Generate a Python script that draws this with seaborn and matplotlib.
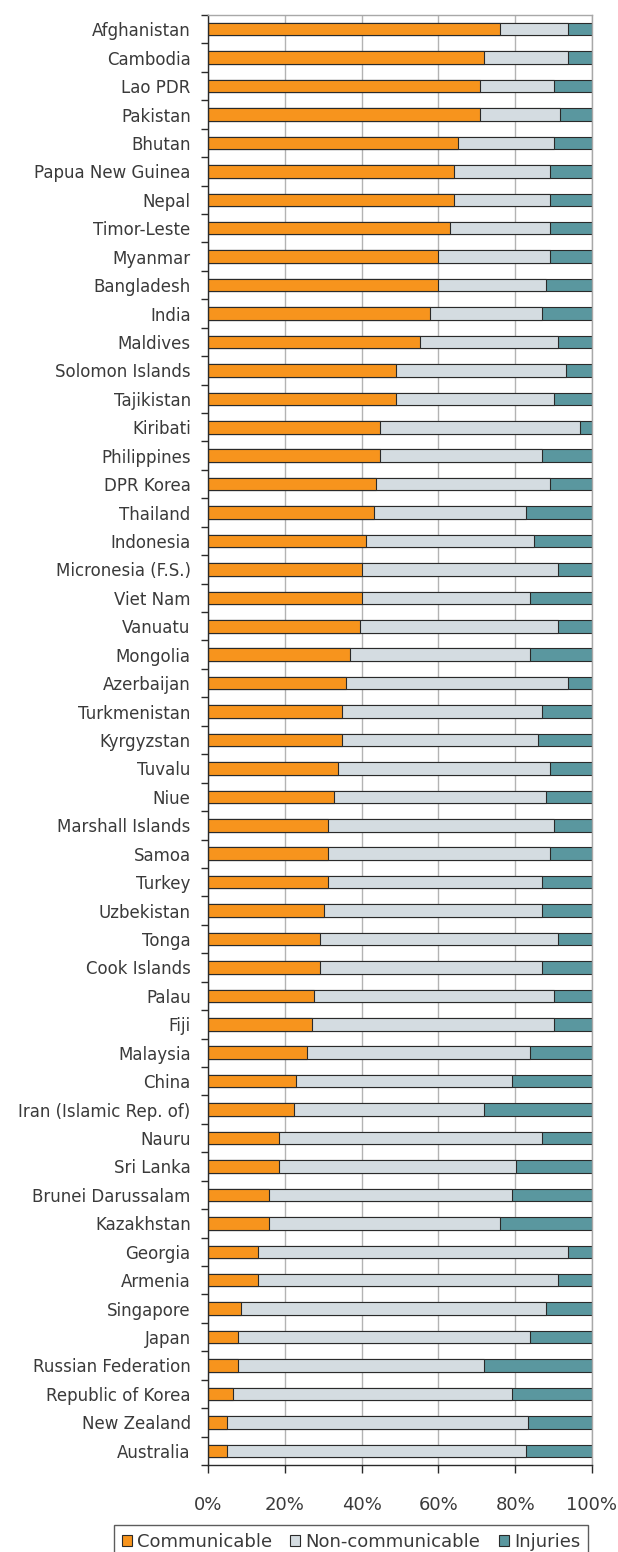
import matplotlib
matplotlib.use("Agg")
import matplotlib.pyplot as plt
import seaborn as sns
import pandas as pd
import numpy as np
from matplotlib.patches import Patch
from matplotlib.ticker import FixedLocator

countries = [
    "Afghanistan", "Cambodia", "Lao PDR", "Pakistan", "Bhutan", "Papua New Guinea",
    "Nepal", "Timor-Leste", "Myanmar", "Bangladesh", "India", "Maldives",
    "Solomon Islands", "Tajikistan", "Kiribati", "Philippines", "DPR Korea",
    "Thailand", "Indonesia", "Micronesia (F.S.)", "Viet Nam", "Vanuatu", "Mongolia",
    "Azerbaijan", "Turkmenistan", "Kyrgyzstan", "Tuvalu", "Niue", "Marshall Islands",
    "Samoa", "Turkey", "Uzbekistan", "Tonga", "Cook Islands", "Palau", "Fiji",
    "Malaysia", "China", "Iran (Islamic Rep. of)", "Nauru", "Sri Lanka",
    "Brunei Darussalam", "Kazakhstan", "Georgia", "Armenia", "Singapore", "Japan",
    "Russian Federation", "Republic of Korea", "New Zealand", "Australia",
]
communicable = [
    76.1, 71.8, 70.8, 70.8, 65.1, 64.1, 64.1, 63.0, 59.9, 59.9, 57.7, 55.2,
    48.9, 48.9, 44.7, 44.7, 43.7, 43.2, 41.1, 40.0, 40.0, 39.5, 36.9, 35.9,
    34.8, 34.8, 33.8, 32.7, 31.2, 31.2, 31.2, 30.1, 29.1, 29.1, 27.5, 27.0,
    25.9, 22.8, 22.3, 18.6, 18.6, 16.0, 16.0, 12.9, 12.9, 8.7, 7.7, 7.7,
    6.6, 5.0, 5.0,
]
non_communicable = [
    17.6, 21.9, 19.3, 20.8, 25.0, 24.9, 24.9, 26.0, 29.1, 28.2, 29.2, 35.9,
    44.3, 41.2, 52.2, 42.2, 45.3, 39.6, 43.8, 51.1, 43.8, 51.6, 46.9, 57.8,
    52.1, 51.1, 55.2, 55.3, 58.9, 57.8, 55.7, 56.8, 62.0, 57.8, 62.6, 63.1,
    57.9, 56.3, 49.5, 68.3, 61.6, 63.1, 60.0, 80.8, 78.2, 79.3, 76.1, 64.1,
    72.5, 78.3, 77.8,
]
injuries = [
    6.3, 6.3, 9.9, 8.4, 9.9, 11.0, 11.0, 11.0, 11.0, 11.9, 13.1, 8.9,
    6.8, 9.9, 3.1, 13.1, 11.0, 17.2, 15.1, 8.9, 16.2, 8.9, 16.2, 6.3,
    13.1, 14.1, 11.0, 12.0, 9.9, 11.0, 13.1, 13.1, 8.9, 13.1, 9.9, 9.9,
    16.2, 20.9, 28.2, 13.1, 19.8, 20.9, 24.0, 6.3, 8.9, 12.0, 16.2, 28.2,
    20.9, 16.7, 17.2,
]
series_names = ["Communicable", "Non-communicable", "Injuries"]
x_ticks = [0, 20, 40, 60, 80, 100]
x_tick_labels = ["0%", "20%", "40%", "60%", "80%", "100%"]

colors = ["#F7941D", "#D4DCE1", "#5A979F"]
edge = "#2a2a2a"
text_color = "#3a3a3a"

df = pd.DataFrame({
    "country": countries,
    "c": communicable,
    "n": non_communicable,
    "i": injuries,
})
df["cn"] = df["c"] + df["n"]
df["total"] = df["cn"] + df["i"]

sns.set_theme(style="white")
plt.rcParams["font.family"] = ["DejaVu Sans"]

fig = plt.figure(figsize=(6.18, 15.52), dpi=100)
ax = fig.add_axes([208 / 618, 1 - 1465 / 1552, 384 / 618, 1450 / 1552])

bw = 0.44
lw = 0.8
sns.barplot(data=df, x="total", y="country", order=countries, orient="h",
            color=colors[2], width=bw, edgecolor=edge, linewidth=lw,
            saturation=1, ax=ax, errorbar=None)
sns.barplot(data=df, x="cn", y="country", order=countries, orient="h",
            color=colors[1], width=bw, edgecolor=edge, linewidth=lw,
            saturation=1, ax=ax, errorbar=None)
sns.barplot(data=df, x="c", y="country", order=countries, orient="h",
            color=colors[0], width=bw, edgecolor=edge, linewidth=lw,
            saturation=1, ax=ax, errorbar=None)

n = len(countries)
ax.set_xlim(0, 100)
ax.set_ylim(n - 0.5, -0.5)
ax.set_xlabel("")
ax.set_ylabel("")

fs = 12
fs_x = 13
ax.set_axisbelow(True)
ax.set_xticks(x_ticks)
ax.set_xticklabels(x_tick_labels, fontsize=fs_x, color=text_color)
ax.xaxis.grid(True, color="#b3b3b3", linewidth=1.0)
ax.yaxis.grid(False)

ax.tick_params(axis="x", which="major", direction="out", length=6, width=1,
               color=edge, pad=16.5, bottom=True)
ax.set_yticks(range(n))
ax.set_yticklabels(countries, fontsize=fs, color=text_color)
ax.tick_params(axis="y", which="major", length=0, pad=12.5, left=True)
ax.yaxis.set_minor_locator(FixedLocator(np.arange(-0.5, n, 1.0)))
ax.tick_params(axis="y", which="minor", direction="out", length=5, width=1,
               color=edge, left=True)

for s in ["left", "bottom"]:
    ax.spines[s].set_color(edge)
    ax.spines[s].set_linewidth(1.0)
for s in ["top", "right"]:
    ax.spines[s].set_color("#a8a8a8")
    ax.spines[s].set_linewidth(1.0)

handles = [Patch(facecolor=c, edgecolor=edge, linewidth=0.8) for c in colors]
leg = fig.legend(handles, series_names, loc="upper center",
                 bbox_to_anchor=(351 / 618, 1 - 1525 / 1552), ncol=3,
                 frameon=True, fancybox=False, fontsize=13,
                 handlelength=0.55, handleheight=0.55, handletextpad=0.3,
                 columnspacing=1.0, borderpad=0.45, borderaxespad=0,
                 labelcolor=text_color)
leg.get_frame().set_edgecolor("#333333")
leg.get_frame().set_linewidth(1.0)

fig.savefig("out.png", dpi=100, facecolor="white")
